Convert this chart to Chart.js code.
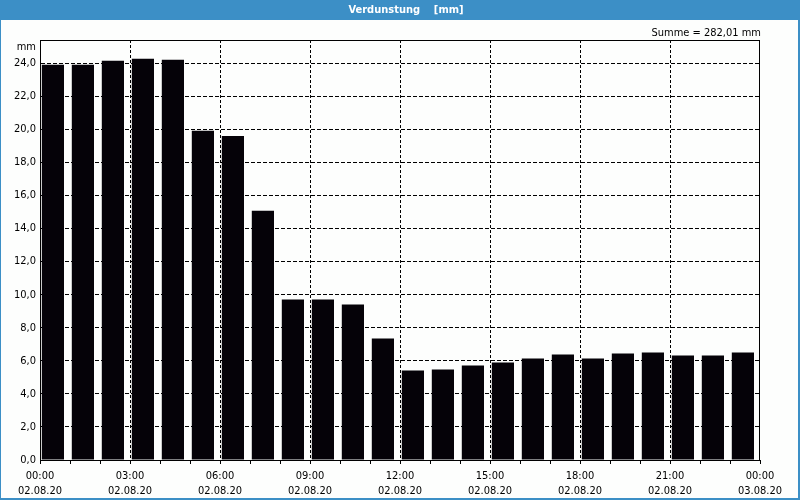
<!DOCTYPE html>
<html>
<head>
<meta charset="utf-8">
<script src="https://cdn.jsdelivr.net/npm/chart.js@4"></script>
<style>
  html, body { margin: 0; padding: 0; background: #fdfefd; }
  #wrap { width: 800px; height: 500px; position: relative; }
</style>
</head>
<body>
<div id="wrap"><canvas id="myChart" width="800" height="500"></canvas></div>
<script>
// hourly evaporation, 02.08.20 00:00 .. 03.08.20 00:00
const hours = [0, 1, 2, 3, 4, 5, 6, 7, 8, 9, 10, 11, 12, 13, 14, 15, 16, 17, 18, 19, 20, 21, 22, 23];
const values = [23.9, 23.9, 24.14, 24.26, 24.2, 19.91, 19.6, 15.08, 9.7, 9.7, 9.4, 7.35,
  5.42, 5.48, 5.72, 5.9, 6.14, 6.38, 6.14, 6.44, 6.5, 6.32, 6.32, 6.5];
const tickTimes = ["00:00", "03:00", "06:00", "09:00", "12:00", "15:00", "18:00", "21:00", "00:00"];
const tickDates = ["02.08.20", "02.08.20", "02.08.20", "02.08.20", "02.08.20", "02.08.20", "02.08.20", "02.08.20", "03.08.20"];
const yTicks = [0, 2, 4, 6, 8, 10, 12, 14, 16, 18, 20, 22, 24];
const title = "Verdunstung    [mm]";
const summe = "Summe = 282,01 mm";

const FONT = "'DejaVu Sans Condensed', 'Liberation Sans', sans-serif";
const BLUE = "rgb(60,143,198)";

let points = [];
hours.forEach((h, i) => {
  points.push({ x: h + 0.43, y: values[i] });
});

const frame = {
  id: "frame",
  beforeDraw(chart) {
    const ctx = chart.ctx;
    ctx.save();
    ctx.fillStyle = "#fdfefd";
    ctx.fillRect(0, 0, 800, 500);
    ctx.fillStyle = BLUE;
    ctx.fillRect(0, 0, 800, 20);
    ctx.fillRect(0, 0, 1, 500);
    ctx.fillRect(798, 0, 2, 500);
    ctx.fillRect(0, 498, 800, 2);
    ctx.fillStyle = "#ffffff";
    ctx.font = "bold 11px " + FONT;
    ctx.textAlign = "center";
    ctx.textBaseline = "middle";
    ctx.fillText(title, 406, 10);
    ctx.fillStyle = "#000";
    ctx.font = "11px " + FONT;
    ctx.textAlign = "right";
    ctx.fillText(summe, 761, 33);
    ctx.fillText("mm", 36, 47);
    ctx.restore();
  },
  afterDraw(chart) {
    const a = chart.chartArea;
    const ctx = chart.ctx;
    ctx.save();
    ctx.strokeStyle = "#000";
    ctx.lineWidth = 1;
    ctx.strokeRect(Math.round(a.left) + 0.5, Math.round(a.top) + 0.5, Math.round(a.right - a.left) - 1, Math.round(a.bottom - a.top));
    ctx.restore();
  }
};

new Chart(document.getElementById("myChart"), {
  type: "bar",
  data: {
    datasets: [{
      data: points,
      backgroundColor: "#050208",
      borderWidth: 0,
      barPercentage: 0.74,
      categoryPercentage: 1
    }]
  },
  options: {
    responsive: false,
    animation: false,
    layout: { padding: { left: 0, top: 40, right: 40, bottom: 0 } },
    plugins: { legend: { display: false }, tooltip: { enabled: false } },
    scales: {
      x: {
        type: "linear",
        min: 0,
        max: 24,
        offset: false,
        afterFit: (s) => { s.height = 40; },
        afterBuildTicks: (s) => { s.ticks = hours.concat([24]).map((h) => ({ value: h })); },
        ticks: {
          autoSkip: false,
          maxRotation: 0,
          padding: 5,
          color: "#000",
          font: { family: FONT, size: 11, lineHeight: 1.35 },
          callback: (v) => (v % 3 === 0 ? [tickTimes[v / 3], tickDates[v / 3]] : "")
        },
        grid: {
          offset: false,
          color: (c) => (c.tick && c.tick.value % 3 === 0 && c.tick.value > 0 && c.tick.value < 24 ? "#000" : "rgba(0,0,0,0)"),
          tickColor: "#000",
          tickLength: 4,
          lineWidth: 1
        },
        border: { display: true, color: "#000", dash: [3, 2] }
      },
      y: {
        min: 0,
        max: 25.4,
        afterFit: (s) => { s.width = 40; },
        afterBuildTicks: (s) => { s.ticks = yTicks.map((v) => ({ value: v })); },
        ticks: {
          padding: 4,
          color: "#000",
          font: { family: FONT, size: 11 },
          callback: (v) => v.toFixed(1).replace(".", ",")
        },
        grid: {
          color: (c) => (c.tick && c.tick.value > 0 ? "#000" : "rgba(0,0,0,0)"),
          drawTicks: false,
          lineWidth: 1
        },
        border: { display: true, color: "#000", dash: [4, 2] }
      }
    }
  },
  plugins: [frame]
});
</script>
</body>
</html>
